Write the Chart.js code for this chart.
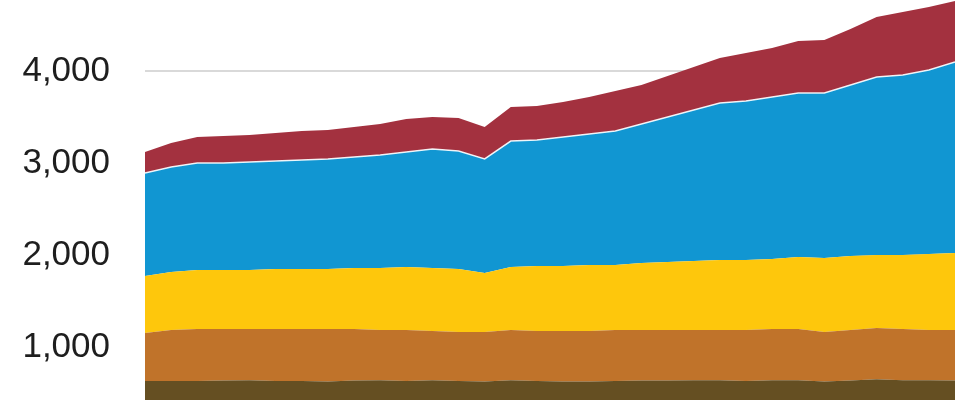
<!DOCTYPE html>
<html>
<head>
<meta charset="utf-8">
<script src="https://cdn.jsdelivr.net/npm/chart.js@4/dist/chart.umd.min.js"></script>
<style>
  html, body { margin: 0; padding: 0; background: #fff; }
  #wrap { width: 955px; height: 400px; position: relative; }
</style>
</head>
<body>
<div id="wrap"><canvas id="myChart"></canvas></div>
<script>
// 32 yearly points, bottom layer first
const years = [1990, 1991, 1992, 1993, 1994, 1995, 1996, 1997, 1998, 1999, 2000, 2001, 2002, 2003, 2004, 2005,
  2006, 2007, 2008, 2009, 2010, 2011, 2012, 2013, 2014, 2015, 2016, 2017, 2018, 2019, 2020, 2021];

const olive  = [630, 630, 630, 635, 640, 630, 630, 625, 635, 640, 630, 640, 630, 625, 640, 630,
  625, 625, 630, 635, 635, 640, 640, 630, 640, 640, 625, 635, 650, 640, 640, 635];
const orange = [522, 555, 566, 561, 556, 566, 566, 571, 561, 545, 555, 534, 533, 538, 545, 544,
  549, 549, 555, 550, 550, 545, 545, 555, 556, 556, 538, 550, 557, 556, 545, 550];
const yellow = [620, 630, 641, 641, 641, 652, 652, 652, 663, 674, 685, 685, 685, 641, 685, 706,
  706, 717, 706, 728, 739, 750, 761, 761, 761, 782, 804, 804, 793, 804, 826, 837];
const blue   = [1119, 1142, 1163, 1163, 1174, 1174, 1185, 1196, 1206, 1228, 1250, 1293, 1282, 1240, 1369, 1370,
  1403, 1424, 1457, 1511, 1576, 1641, 1706, 1728, 1760, 1783, 1794, 1859, 1935, 1957, 2000, 2076];
const red    = [229, 260, 283, 293, 293, 304, 315, 315, 326, 337, 358, 348, 359, 347, 370, 370,
  380, 402, 435, 424, 446, 467, 489, 522, 533, 565, 576, 609, 652, 684, 685, 663];

const yTicks = [1000, 2000, 3000, 4000];

const ctx = document.querySelector("#myChart");

const layer = (data, color, fill) => ({
    data: data,
    backgroundColor: color,
    borderColor: color,
    borderWidth: 0,
    pointRadius: 0,
    tension: 0,
    fill: fill
});

const blueLayer = layer(blue, '#1196d2', '-1');
blueLayer.borderColor = 'rgba(255,255,255,0.9)';
blueLayer.borderWidth = 1.5;

new Chart(ctx, {
    type: 'line',
    data: {
        labels: years,
        datasets: [
            layer(olive, '#654f22', 'start'),
            layer(orange, '#c0732a', '-1'),
            layer(yellow, '#fec70c', '-1'),
            blueLayer,
            layer(red, '#a3313f', '-1')
        ]
    },
    options: {
        responsive: true,
        maintainAspectRatio: false,
        animation: false,
        layout: { padding: 0 },
        plugins: {
            legend: { display: false },
            tooltip: { enabled: false }
        },
        scales: {
            x: { display: false },
            y: {
                stacked: true,
                min: 424,
                max: 4772,
                afterFit: (scale) => {
                    scale.width = 145;
                    scale.paddingTop = 0;
                    scale.paddingBottom = 0;
                },
                afterBuildTicks: (scale) => {
                    scale.ticks = yTicks.map(v => ({ value: v }));
                },
                border: { display: false },
                grid: {
                    color: '#d9d9d9',
                    lineWidth: 2,
                    drawTicks: false
                },
                ticks: {
                    padding: 35,
                    color: '#1e1e1e',
                    font: { family: '"Liberation Sans", Arial, sans-serif', size: 35 },
                    callback: (v) => v.toLocaleString('en-US')
                }
            }
        }
    }
});
</script>
</body>
</html>
